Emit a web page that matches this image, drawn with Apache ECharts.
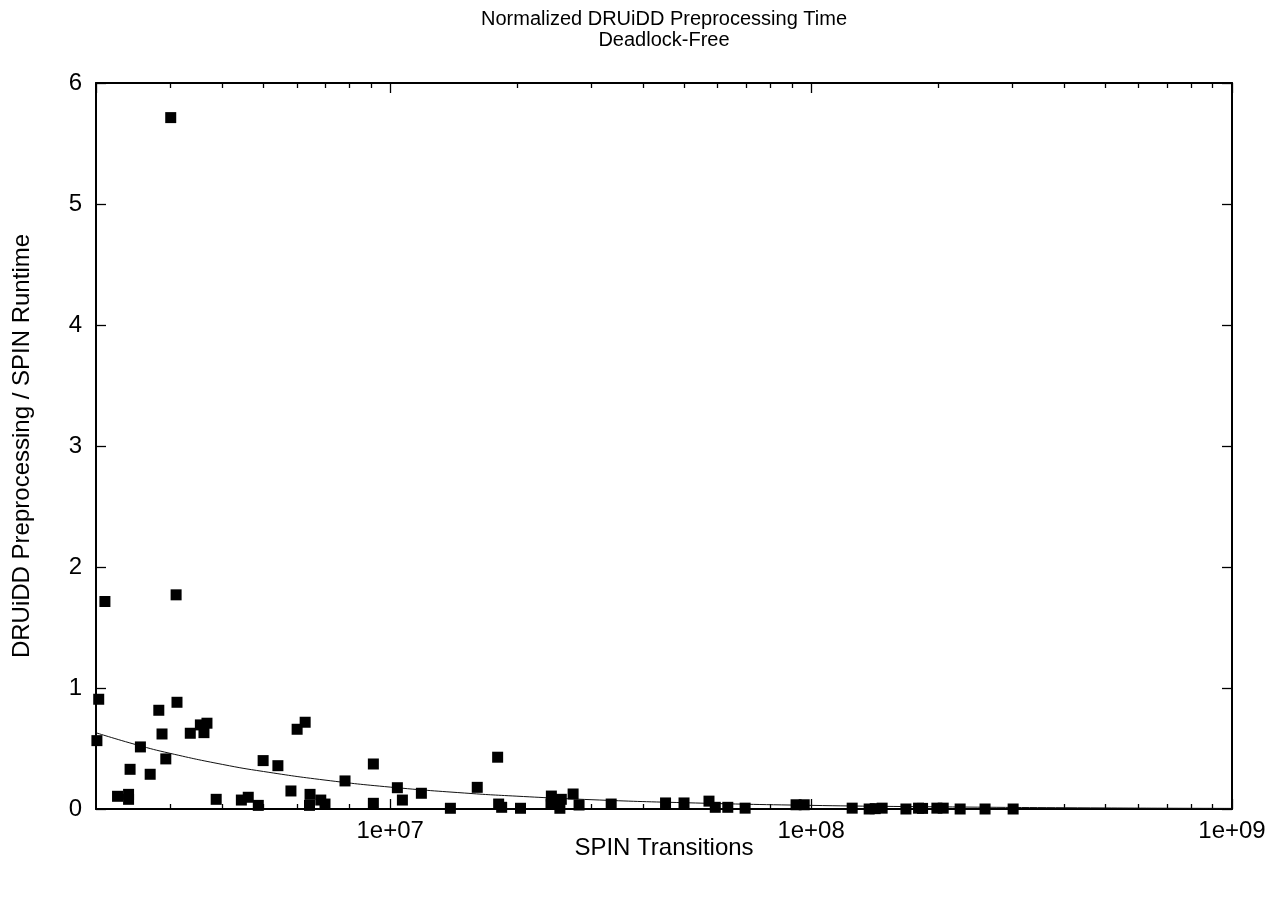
<!DOCTYPE html>
<html><head><meta charset="utf-8">
<script src="https://cdn.jsdelivr.net/npm/echarts@6/dist/echarts.min.js"></script>
<style>html,body{margin:0;padding:0;background:#fff}#c{width:1281px;height:898px}</style>
</head><body><div id="c"></div>
<script>
// SPIN transitions (x) and normalized preprocessing time (y)
const transitions = [2.10e6,3.10e6,3.01e6,2.03e6,3.115e6,2.82e6,2.01e6,2.87e6,3.35e6,3.54e6,3.67e6,3.61e6,2.55e6,2.93e6,2.41e6,2.69e6,2.25e6,2.39e6,2.39e6,3.86e6,4.43e6,4.60e6,4.86e6,4.99e6,5.41e6,6.01e6,6.28e6,5.81e6,6.45e6,6.43e6,6.84e6,7.00e6,7.81e6,9.12e6,9.12e6,1.04e7,1.069e7,1.186e7,1.39e7,1.61e7,1.80e7,1.81e7,1.84e7,2.04e7,2.415e7,2.41e7,2.55e7,2.53e7,2.72e7,2.81e7,3.35e7,4.51e7,4.99e7,5.72e7,5.92e7,6.34e7,6.97e7,9.21e7,9.63e7,1.252e8,1.374e8,1.42e8,1.475e8,1.68e8,1.80e8,1.84e8,1.99e8,2.06e8,2.26e8,2.59e8,3.02e8];
const ratios = [1.715,1.77,5.714,0.907,0.882,0.816,0.565,0.62,0.626,0.695,0.709,0.631,0.513,0.414,0.328,0.287,0.105,0.121,0.08,0.08,0.074,0.097,0.03,0.40,0.358,0.659,0.717,0.149,0.121,0.03,0.074,0.041,0.232,0.372,0.047,0.176,0.074,0.13,0.006,0.179,0.428,0.041,0.014,0.006,0.107,0.041,0.08,0.006,0.124,0.033,0.041,0.05,0.05,0.065,0.014,0.014,0.007,0.035,0.035,0.007,0.0,0.003,0.007,0.0,0.007,0.005,0.007,0.007,0.0,0.0,0.0];
// fitted curve
const fitTransitions = [2e6,2.5e6,3e6,4e6,5e6,7e6,1e7,1.5e7,2e7,3e7,5e7,1e8,2e8,5e8,1e9];
const fitRatios = [0.63,0.53,0.46,0.368,0.31,0.239,0.181,0.132,0.106,0.077,0.052,0.030,0.018,0.0087,0.005];
// axis ticks
const yTicks = [0,1,2,3,4,5,6];
const xMin = 2e6, xMax = 1e9;
const xMinorMultipliers = [2,3,4,5,6,7,8,9];
const xMinorDecades = [1e6,1e7,1e8];

const FONT = 'Liberation Sans';
const FS = 24;
const minorLog = [];
xMinorDecades.forEach(d => xMinorMultipliers.forEach(m => {
  const v = m * d;
  if (v > xMin && v < xMax) minorLog.push(Math.log10(v));
}));

const chart = echarts.init(document.getElementById('c'), null, {renderer: 'canvas'});
const black = '#000';
function logAxis(pos, labels) {
  return {
    type: 'log', logBase: 10, min: xMin, max: xMax, position: pos,
    axisLine: {show: true, onZero: false, lineStyle: {color: black, width: 2}},
    axisTick: {show: true, inside: true, length: 10, lineStyle: {color: black, width: 1.3}},
    axisLabel: {show: labels, showMinLabel: false, margin: 10, color: black, fontFamily: FONT, fontSize: FS,
      formatter: v => { const e = Math.round(Math.log10(v)); return '1e+' + (e < 10 ? '0' : '') + e; }},
    splitLine: {show: false}, minorTick: {show: false},
    name: labels ? 'SPIN Transitions' : '', nameLocation: 'middle', nameGap: 27, nameMoveOverlap: false,
    nameTextStyle: {color: black, fontFamily: FONT, fontSize: FS}
  };
}
function minorAxis(pos) {
  return {
    type: 'value', min: Math.log10(xMin), max: Math.log10(xMax), position: pos,
    axisLine: {show: false, onZero: false},
    axisTick: {show: true, inside: true, length: 5, customValues: minorLog, lineStyle: {color: black, width: 1.3}},
    axisLabel: {show: false}, splitLine: {show: false}
  };
}
function yAxis(pos, labels) {
  return {
    type: 'value', min: yTicks[0], max: yTicks[yTicks.length - 1], interval: 1, position: pos,
    axisLine: {show: true, onZero: false, lineStyle: {color: black, width: 2}},
    axisTick: {show: true, inside: true, length: 10, lineStyle: {color: black, width: 1.3}},
    axisLabel: {show: labels, margin: 14, color: black, fontFamily: FONT, fontSize: FS},
    splitLine: {show: false},
    name: labels ? 'DRUiDD Preprocessing / SPIN Runtime' : '', nameLocation: 'middle', nameGap: 62, nameRotate: 90,
    nameMoveOverlap: false,
    nameTextStyle: {color: black, fontFamily: FONT, fontSize: FS}
  };
}

chart.setOption({
  animation: false,
  backgroundColor: '#fff',
  title: {
    text: 'Normalized DRUiDD Preprocessing Time\nDeadlock-Free',
    left: 664, top: 9, padding: 0, textAlign: 'center',
    textStyle: {color: black, fontFamily: FONT, fontSize: 20, fontWeight: 'normal', lineHeight: 21}
  },
  grid: {left: 96, right: 49, top: 83, bottom: 89, containLabel: false},
  xAxis: [logAxis('bottom', true), logAxis('top', false), minorAxis('bottom'), minorAxis('top')],
  yAxis: [yAxis('left', true), yAxis('right', false)],
  series: [
    {
      type: 'line', xAxisIndex: 0, yAxisIndex: 0, smooth: true, showSymbol: false, symbol: 'none',
      lineStyle: {color: '#111', width: 1}, z: 1,
      data: fitTransitions.map((x, i) => [x, fitRatios[i]])
    },
    {
      type: 'scatter', xAxisIndex: 0, yAxisIndex: 0, symbol: 'rect', symbolSize: 11, clip: false,
      itemStyle: {color: black, opacity: 1}, z: 2,
      data: transitions.map((x, i) => [x, ratios[i]])
    }
  ]
});
</script>
</body></html>
